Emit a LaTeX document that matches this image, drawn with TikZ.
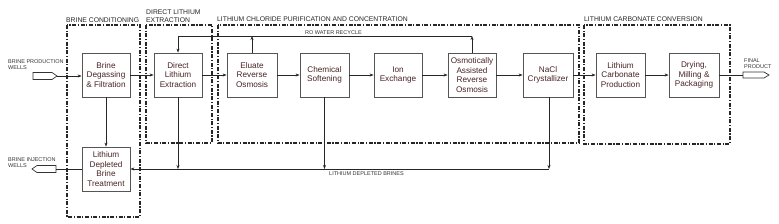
\documentclass[tikz,border=0pt]{standalone}
\usepackage{fontspec}
\setmainfont{Liberation Sans}
\usetikzlibrary{arrows.meta}
\definecolor{boxtxt}{HTML}{4A2424}
\definecolor{boxline}{HTML}{555555}
\tikzset{
  proc/.style={draw=boxline, line width=0.8pt, fill=white, minimum width=48pt, minimum height=44pt,
    inner sep=1pt, align=center, text=boxtxt, font=\fontsize{8.2}{9.6}\selectfont},
  region/.style={draw=black!85, line width=1.4pt, dash pattern=on 4pt off 1.6pt on 1.2pt off 1.6pt},
  rlabel/.style={anchor=west, inner sep=0pt, font=\fontsize{6.8}{7.8}\selectfont, text=black!85},
  slabel/.style={anchor=west, inner sep=0pt, align=left, font=\fontsize{5.5}{6.2}\selectfont, text=black!80},
  flow/.style={draw=black!85, line width=0.7pt},
  arr/.style={flow, -{Stealth[length=4pt,width=3pt]}},
  wells/.style={draw=black!80, line width=0.7pt, fill=white}
}
\begin{document}
\begin{tikzpicture}[x=1pt,y=-1pt]
\useasboundingbox (0,0) rectangle (779,223);
% regions
\draw[region] (67,25) rectangle (140,217);
\draw[region] (146,25) rectangle (212,143);
\draw[region] (218,25) rectangle (579,143);
\draw[region] (584,25) rectangle (730,144);
\node[rlabel] (lbc) at (66,20) {BRINE CONDITIONING};
\node[rlabel, align=left, anchor=south west] (ldle) at (146,23) {DIRECT LITHIUM\\EXTRACTION};
\node[rlabel] (lpur) at (217,19) {LITHIUM CHLORIDE PURIFICATION AND CONCENTRATION};
\node[rlabel] (lcar) at (584,19) {LITHIUM CARBONATE CONVERSION};
% process boxes
\node[proc] (bdf) at (106,75) {Brine\\Degassing\\\& Filtration};
\node[proc] (ldbt) at (106,169) {Lithium\\Depleted\\Brine\\Treatment};
\node[proc] (dle) at (178,75) {Direct\\Lithium\\Extraction};
\node[proc, minimum width=50pt] (ero) at (252,75) {Eluate\\Reverse\\Osmosis};
\node[proc, minimum width=49pt] (cs) at (324.5,75) {Chemical\\Softening};
\node[proc] (ix) at (398,75) {Ion\\Exchange};
\node[proc] (oaro) at (472,75) {Osmotically\\Assisted\\Reverse\\Osmosis};
\node[proc, minimum width=50pt] (nacl) at (548,75) {NaCl\\Crystallizer};
\node[proc, minimum width=49pt] (lcp) at (620.5,75) {Lithium\\Carbonate\\Production};
\node[proc, minimum width=50pt] (dmp) at (694,75) {Drying,\\Milling \&\\Packaging};
% wells
\draw[wells] (33,72.5) -- (52,72.5) -- (57,76) -- (52,79.5) -- (33,79.5) -- cycle;
\coordinate (inw) at (57,76);
\node[slabel, anchor=south west] (linw) at (8,70) {BRINE PRODUCTION\\WELLS};
\draw[wells] (32,169) -- (37,165.5) -- (56,165.5) -- (56,172.5) -- (37,172.5) -- cycle;
\coordinate (outw) at (56,169);
\node[slabel, anchor=south west] (loutw) at (8,168) {BRINE INJECTION\\WELLS};
\draw[wells] (743,72) -- (764,72) -- (769,75) -- (764,78) -- (743,78) -- cycle;
\coordinate (fin) at (743,75);
\node[slabel, anchor=south west] (lfin) at (744,69) {FINAL\\PRODUCT};
% main flow
\draw[arr] (inw) -- (bdf.west |- inw);
\draw[arr] (bdf) -- (dle);
\draw[arr] (dle) -- (ero);
\draw[arr] (ero) -- (cs);
\draw[arr] (cs) -- (ix);
\draw[arr] (ix) -- (oaro);
\draw[arr] (oaro) -- (nacl);
\draw[arr] (nacl) -- (lcp);
\draw[arr] (lcp) -- (dmp);
\draw[flow] (dmp.east) -- (fin);
\draw[arr] (bdf) -- (ldbt);
\draw[flow] (ldbt.west) -- (outw);
% RO water recycle
\coordinate (r1) at (178,36);
\coordinate (r2) at (472,36);
\draw[arr] (oaro.north) -- (r2);
\draw[arr] (r2) -- (r1) -- (dle.north);
\draw[arr] (ero.north) -- (ero.north |- r1);
\node[slabel, anchor=south west] (lrec) at (305,35) {RO WATER RECYCLE};
% lithium depleted brines
\coordinate (b1) at (549,169);
\draw[arr] (nacl.south -| b1) -- (b1);
\draw[arr] (b1) -- (ldbt.east);
\draw[arr] (dle.south) -- (dle.south |- b1);
\draw[arr] (cs.south) -- (cs.south |- b1);
\node[slabel] (lbr) at (329,174) {LITHIUM DEPLETED BRINES};
\end{tikzpicture}
\end{document}
